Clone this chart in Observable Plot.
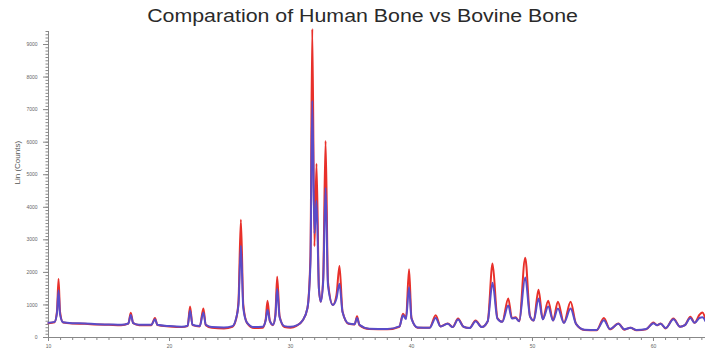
<!DOCTYPE html>
<html><head><meta charset="utf-8">
<script src="https://cdn.jsdelivr.net/npm/d3@7"></script>
<script src="https://cdn.jsdelivr.net/npm/@observablehq/plot@0.6"></script>
<style>
body{margin:0;background:#fff;width:705px;height:352px;overflow:hidden;font-family:"Liberation Sans",Arial,sans-serif;}
#title{height:26px;text-align:center;position:relative;z-index:2;}
#title span{display:inline-block;font-size:17.5px;line-height:17.5px;margin-top:8px;color:#2a2a2a;transform:scaleX(1.22);transform-origin:center;margin-left:20px;}
#chart{position:relative;}
</style></head><body>
<div id="title"><span>Comparation of Human Bone vs Bovine Bone</span></div>
<div id="chart"></div>
<script>
const twoTheta = [10.0,10.5,10.7,10.83,10.95,11.2,12.0,13.0,14.0,15.0,16.0,16.6,16.8,17.0,17.5,18.5,18.8,19.0,20.0,21.0,21.5,21.7,21.9,22.5,22.8,23.0,23.5,24.5,25.2,25.5,25.7,25.9,26.1,26.4,27.0,27.7,27.95,28.1,28.3,28.55,28.75,28.9,29.1,29.5,30.0,30.5,31.0,31.4,31.65,31.8,31.98,32.15,32.35,32.5,32.7,32.9,33.1,33.5,33.8,34.05,34.3,34.8,35.3,35.5,35.7,36.5,38.0,39.0,39.3,39.55,39.8,40.0,40.5,41.5,42.0,42.4,43.0,43.4,43.85,44.3,44.8,45.3,45.8,46.3,46.7,47.1,47.5,48.0,48.3,48.6,48.9,49.4,49.8,50.1,50.5,50.85,51.3,51.7,52.1,52.6,53.15,53.6,54.3,55.3,55.9,56.4,57.1,57.6,58.1,58.6,59.4,60.0,60.3,60.6,61.0,61.65,62.2,62.6,63.05,63.4,63.8,64.05,64.3];
const human = [440,470,800,1800,800,460,430,420,400,390,380,430,760,440,380,380,600,380,340,320,350,950,380,340,890,380,300,280,330,560,1100,3620,1000,450,290,300,560,1130,500,380,700,1870,650,320,300,360,520,900,2500,9480,2800,5340,1500,1100,1800,6040,1700,1000,1300,2200,800,420,400,650,380,260,250,330,730,600,2100,600,300,300,680,340,430,320,580,330,290,520,320,500,2270,600,480,1200,600,620,500,2450,650,520,1470,560,1130,520,1100,450,1100,420,230,220,600,250,430,240,300,220,250,460,380,430,280,580,330,380,640,450,700,770,550];
const bovine = [450,480,750,1450,720,470,440,430,410,400,390,430,690,440,390,390,560,390,350,330,360,830,390,350,770,390,320,310,350,580,1000,2820,900,460,320,330,520,850,500,390,650,1500,620,350,330,370,520,900,2300,7270,3200,4200,1500,1100,1700,4600,1600,1000,1200,1650,780,430,410,600,390,270,260,340,680,570,1540,580,310,300,600,340,420,320,550,330,290,500,320,500,1680,580,480,980,580,600,500,1840,640,520,1200,560,950,520,890,450,890,420,240,230,530,260,420,250,300,230,260,440,380,420,290,560,330,380,600,450,600,620,500];
const yMajorTicks = [0,1000,2000,3000,4000,5000,6000,7000,8000,9000];
const yMinorTicks = d3.range(0, 9401, 100);
const xMajorTicks = [10,20,30,40,50,60];
const xMinorTicks = d3.range(10, 65, 1);

const redData = twoTheta.map((x,i)=>({x, y: human[i]}));
const blueData = twoTheta.map((x,i)=>({x, y: bovine[i]}));
const axisColor = "#888";

const plot = Plot.plot({
  width: 705, height: 326,
  marginLeft: 48, marginRight: 0, marginTop: 5, marginBottom: 15,
  style: {fontFamily: "Liberation Sans, Arial, sans-serif", background: "transparent", overflow: "visible"},
  x: {domain: [10, 64.3]},
  y: {domain: [0, 9400]},
  marks: [
    Plot.axisY({ticks: yMinorTicks, tickSize: 2.5, tickFormat: () => "", stroke: axisColor, label: null}),
    Plot.axisY({ticks: yMajorTicks, tickSize: 5, tickPadding: 6, fontSize: 5, tickFormat: d3.format("d"), fill: "#666", stroke: axisColor, label: null}),
    Plot.axisX({ticks: xMinorTicks, tickSize: 3, tickFormat: () => "", stroke: axisColor, label: null}),
    Plot.axisX({ticks: xMajorTicks, tickSize: 4, tickPadding: 3, fontSize: 5, fill: "#666", stroke: axisColor, label: null}),
    Plot.ruleX([10], {stroke: axisColor, strokeWidth: 1}),
    Plot.ruleY([0], {stroke: axisColor, strokeWidth: 1}),
    Plot.line(redData, {x: "x", y: "y", stroke: "#e8302a", strokeWidth: 2, curve: "monotone-x"}),
    Plot.line(blueData, {x: "x", y: "y", stroke: "#5a4cc8", strokeWidth: 2, curve: "monotone-x"}),
    Plot.text(["Lin (Counts)"], {frameAnchor: "left", dx: -31, rotate: -90, fontSize: 8, fill: "#555"})
  ]
});
document.getElementById("chart").appendChild(plot);
</script>
</body></html>
